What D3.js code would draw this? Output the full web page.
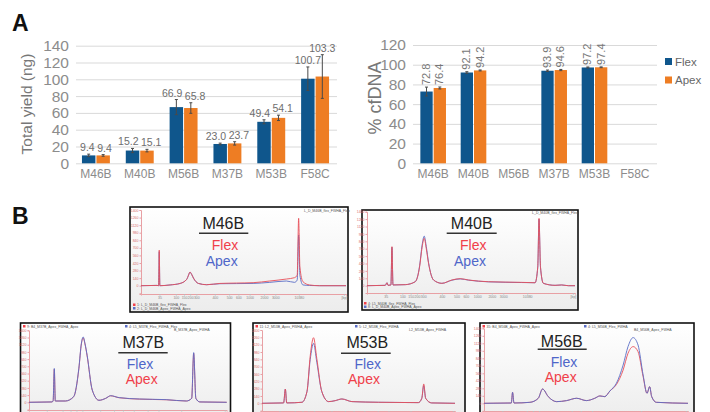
<!DOCTYPE html>
<html>
<head>
<meta charset="utf-8">
<script src="https://cdn.jsdelivr.net/npm/d3@7"></script>
<style>
body{margin:0;background:#fff}
svg{display:block;font-family:"Liberation Sans",Arial,sans-serif}
</style>
</head>
<body>
<svg id="chart" width="710" height="412"></svg>
<script>
// ---- panel A data
const samples = ["M46B", "M40B", "M56B", "M37B", "M53B", "F58C"];
const methods = ["Flex", "Apex"];
const yieldFlex = [9.4, 15.2, 66.9, 23.0, 49.4, 100.7];
const yieldApex = [9.4, 15.1, 65.8, 23.7, 54.1, 103.3];
const yieldErrFlex = [1.5, 2.5, 9, 1, 2.4, 14];
const yieldErrApex = [1, 1.5, 6.3, 2, 3.2, 26];
const cfFlex = [72.8, 92.1, null, 93.9, 97.2, null];
const cfApex = [76.4, 94.2, null, 94.6, 97.4, null];
const cfErrFlex = [4.5, 0.8, null, 0.7, 0.5, null];
const cfErrApex = [1, 0.5, null, 0.6, 0.4, null];
const yieldTicks = [0, 20, 40, 60, 80, 100, 120, 140];
const cfTicks = [0, 20, 40, 60, 80, 100, 120];

// ---- panel B data: [position %, signal %]
const m46bFlex = [[0,0],[7.8,0.4],[8.6,0],[8.9,47],[9.2,0],[14.2,1],[19.1,3],[22.3,8.4],[23.2,14],[23.9,18],[24.7,15],[25.6,10],[28,3],[32,1.3],[38.5,3],[46.6,3.5],[54.7,4],[62.8,6.2],[70.9,8.8],[74.9,10.6],[76.2,14],[76.9,89],[77.5,25],[79,5.3],[82.2,1],[87,0],[100,0]];
const m46bApex = [[0,0],[7.8,0.4],[8.6,0],[8.9,45],[9.2,0],[14.2,1],[19.1,3],[22.3,8.4],[23.2,14],[23.9,18],[24.7,15],[25.6,10],[28,3],[32,1.3],[38.5,2.6],[46.6,2.8],[54.7,3],[62.8,4.4],[70.9,6.2],[74.9,4.4],[76.2,7.5],[76.9,67],[77.5,14],[79,1],[82.2,0.3],[87,0],[100,0]];
const m40bFlex = [[0,0],[8.8,0.5],[9.6,4],[10.1,0.5],[11.5,1],[12,52.7],[12.5,1],[18.4,1.4],[23.2,5.4],[25.3,25.7],[26.5,52],[27.5,64],[28.5,50],[29.6,30],[32,7.7],[36,3.2],[40.8,7.7],[44.8,9.5],[48.8,7.7],[58.4,5.4],[74.4,4.5],[80.8,4],[82.1,25.7],[82.7,91],[83.4,25.7],[84.8,3.2],[90.4,0.5],[93.6,1],[96.8,0],[100,0]];
const m40bApex = [[0,0],[8.8,0.5],[9.6,4],[10.1,0.5],[11.5,1],[12,52],[12.5,1],[18.4,1.4],[23.2,5.4],[25.3,27],[26.5,55],[27.5,67],[28.5,53],[29.6,31],[32,7.7],[36,3.2],[40.8,7.4],[44.8,9.2],[48.8,7.5],[58.4,5.2],[74.4,4.3],[80.8,4],[82.1,25],[82.7,90],[83.4,25],[84.8,3.2],[90.4,0.5],[93.6,1],[96.8,0],[100,0]];
const m37bFlex = [[0,0],[11.6,0.5],[12.2,1.8],[12.8,47],[13.3,1.8],[18.4,1.8],[22.6,7.8],[25.2,47],[26.5,82],[27.4,90.8],[28.3,82],[29.4,65.4],[32,17],[35.4,2.8],[38.8,5.5],[41.3,9.2],[45.6,6.5],[55.8,4.6],[69.4,3.7],[79.6,1.8],[82.3,5.5],[83.3,69],[84.4,5.5],[86.4,0.5],[100,0]];
const m37bApex = [[0,0],[11.6,0.5],[12.2,1.8],[12.8,46],[13.3,1.8],[18.4,1.8],[22.6,7.8],[25.2,46],[26.5,81],[27.4,89.5],[28.3,81],[29.4,64.5],[32,17],[35.4,2.8],[38.8,5.5],[41.3,9],[45.6,6.3],[55.8,4.4],[69.4,3.5],[79.6,1.8],[82.3,5.5],[83.3,68],[84.4,5.5],[86.4,0.5],[100,0]];
const m53bFlex = [[0,0],[11.2,0.5],[12.1,19.5],[12.8,0.5],[20.7,1.4],[23.3,15.9],[25,60],[26.7,81.8],[28.4,56],[31,15.9],[34.5,2.3],[37.9,3.6],[41.4,5.9],[46.6,2.3],[60.3,1.4],[81,0.9],[82.8,6.8],[83.8,24],[84.8,6.8],[87.9,0.5],[100,0]];
const m53bApex = [[0,0],[11.2,0.5],[12.1,19.5],[12.8,0.5],[20.7,1.4],[23.3,15.9],[25,65],[26.7,89.5],[28.4,61],[31,15.9],[34.5,2.3],[37.9,3.6],[41.4,5.9],[46.6,2.3],[60.3,1.4],[81,0.9],[82.8,6.8],[83.8,26.4],[84.8,6.8],[87.9,0.5],[100,0]];
const m56bFlex = [[0,0],[13.4,0.4],[14,14.7],[14.7,0.4],[22.5,1.3],[26.6,6.7],[28.7,19.1],[31.5,8.9],[35.6,2.2],[40.5,3.6],[45.4,6.7],[50.2,3.6],[54.3,6.7],[56.8,9.8],[59.2,8.9],[61.7,16.4],[64.9,26.7],[68.2,51],[70.6,75.6],[73.1,87.6],[75.5,77.8],[78,37.8],[79.9,13.3],[81.2,22.2],[82.2,8.9],[84.5,1.3],[100,0]];
const m56bApex = [[0,0],[13.4,0.4],[14,14.7],[14.7,0.4],[22.5,1.3],[26.6,6.7],[28.7,19.1],[31.5,8.9],[35.6,2.2],[40.5,3.6],[45.4,6.7],[50.2,3.6],[54.3,6.7],[56.8,9.8],[59.2,8.9],[61.7,16.4],[64.9,25],[68.2,44.4],[70.6,66.7],[73.1,75.6],[75.5,68.9],[78,35.6],[79.9,13.3],[81.2,22.2],[82.2,8.9],[84.5,1.3],[100,0]];
const ladderPos = [9, 17, 21, 24, 27, 36, 43, 47.5, 53, 60, 65.5, 77, 99];
const ladderLbl = ["35", "100", "150", "200", "300", "400", "500", "600", "1000", "2000", "3000", "10380", "[bp]"];

const colors = {Flex: "#0f568c", Apex: "#ee7d23"};
const traceRed = "#e8505a", traceBlue = "#5b6ec6";
const textRed = "#f0404a", textBlue = "#4f66c9";

const svg = d3.select("#chart");
const defs = svg.append("defs");
const grad = defs.append("linearGradient").attr("id", "bg")
  .attr("x1", 0).attr("y1", 0).attr("x2", 0).attr("y2", 1);
grad.append("stop").attr("offset", "0%").attr("stop-color", "#ffffff");
grad.append("stop").attr("offset", "100%").attr("stop-color", "#ececec");

function barChart(o) {
  const g = svg.append("g");
  const x0 = d3.scaleBand().domain(samples).range(o.xRange).paddingInner(0.34).paddingOuter(0.17);
  const x1 = d3.scaleBand().domain(methods).range([0, x0.bandwidth()]);
  const y = d3.scaleLinear().domain([0, o.ticks[o.ticks.length - 1]]).range(o.yRange);

  const rows = samples.map((s, i) => ({
    s,
    Flex: o.flex[i], Apex: o.apex[i],
    eFlex: o.errFlex[i], eApex: o.errApex[i]
  }));

  // grid + y labels
  const ya = g.append("g").attr("transform", `translate(${o.gridX[0]},0)`)
    .call(d3.axisLeft(y).tickValues(o.ticks).tickSize(-(o.gridX[1] - o.gridX[0])).tickPadding(7));
  ya.select(".domain").remove();
  ya.selectAll(".tick line").attr("stroke", "#d9d9d9");
  ya.selectAll(".tick text").attr("font-size", 15.5).attr("fill", "#8c8c8c")
    .attr("font-family", "Liberation Sans, Arial, sans-serif");

  // category labels
  const xa = g.append("g").attr("transform", `translate(0,${o.yRange[0]})`)
    .call(d3.axisBottom(x0).tickSize(0).tickPadding(6));
  xa.select(".domain").remove();
  xa.selectAll(".tick text").attr("font-size", 12).attr("fill", "#8c8c8c")
    .attr("font-family", "Liberation Sans, Arial, sans-serif");

  const bars = [];
  rows.forEach(r => methods.forEach(m => {
    if (r[m] != null) bars.push({s: r.s, m, v: r[m], e: r["e" + m]});
  }));
  const cx = d => x0(d.s) + x1(d.m) + x1.bandwidth() / 2;

  g.selectAll(".bar").data(bars).join("rect")
    .attr("x", d => x0(d.s) + x1(d.m) + 0.5)
    .attr("width", x1.bandwidth() - 1)
    .attr("y", d => y(d.v))
    .attr("height", d => y(0) - y(d.v))
    .attr("fill", d => colors[d.m]);

  const eb = g.selectAll(".err").data(bars).join("g").attr("stroke", "#4a4a4a").attr("stroke-width", 1);
  eb.append("line").attr("x1", cx).attr("x2", cx)
    .attr("y1", d => y(d.v + d.e)).attr("y2", d => y(d.v - d.e));
  eb.append("line").attr("x1", d => cx(d) - 1.5).attr("x2", d => cx(d) + 1.5)
    .attr("y1", d => y(d.v + d.e)).attr("y2", d => y(d.v + d.e));
  eb.append("line").attr("x1", d => cx(d) - 1.5).attr("x2", d => cx(d) + 1.5)
    .attr("y1", d => y(d.v - d.e)).attr("y2", d => y(d.v - d.e));

  if (o.rotated) {
    g.selectAll(".vl").data(bars).join("text")
      .attr("transform", d => `translate(${cx(d) + 3.5},${y(d.v + d.e) - 2}) rotate(-90)`)
      .attr("font-size", 11).attr("fill", "#777")
      .text(d => d.v.toFixed(1));
  } else {
    const lbl = g.selectAll(".vl").data(bars).join("text")
      .attr("x", cx).attr("y", d => y(d.v + d.e) - 3)
      .attr("text-anchor", "middle").attr("font-size", 10.5).attr("fill", "#6e6e6e")
      .text(d => d.v.toFixed(1));
    // push the two labels of a pair apart when they would overlap
    const nodes = lbl.nodes();
    for (let i = 0; i + 1 < nodes.length; i += 2) {
      const a = nodes[i], b = nodes[i + 1];
      const da = bars[i], db = bars[i + 1];
      if (Math.abs(y(da.v + da.e) - y(db.v + db.e)) > 9) continue;
      const wa = a.getComputedTextLength(), wb = b.getComputedTextLength();
      const overlap = (cx(da) + wa / 2) - (cx(db) - wb / 2) + 2.5;
      if (overlap > 0) {
        d3.select(a).attr("x", cx(da) - overlap / 2);
        d3.select(b).attr("x", cx(db) + overlap / 2);
      }
    }
  }

  g.append("text")
    .attr("transform", `translate(${o.titleX},${o.titleY}) rotate(-90)`)
    .attr("text-anchor", "middle").attr("font-size", o.titleSize).attr("fill", "#777")
    .text(o.title);
}

barChart({
  flex: yieldFlex, apex: yieldApex, errFlex: yieldErrFlex, errApex: yieldErrApex,
  ticks: yieldTicks, xRange: [74, 337], gridX: [76, 337], yRange: [163.3, 45.7],
  title: "Total yield (ng)", titleX: 32, titleY: 104, titleSize: 15.5, rotated: false
});
barChart({
  flex: cfFlex, apex: cfApex, errFlex: cfErrFlex, errApex: cfErrApex,
  ticks: cfTicks, xRange: [413, 655], gridX: [413, 657], yRange: [163.3, 45],
  title: "% cfDNA", titleX: 381, titleY: 98, titleSize: 18, rotated: true
});

// legend
const leg = svg.append("g").attr("transform", "translate(665,58)");
methods.forEach((m, i) => {
  leg.append("rect").attr("x", 0).attr("y", i * 18.5).attr("width", 7).attr("height", 7).attr("fill", colors[m]);
  leg.append("text").attr("x", 10).attr("y", i * 18.5 + 7.5).attr("font-size", 11.5).attr("fill", "#666").text(m);
});

svg.append("text").attr("x", 12).attr("y", 31).attr("font-size", 23).attr("font-weight", "bold").attr("fill", "#111").text("A");
svg.append("text").attr("x", 12).attr("y", 224).attr("font-size", 23).attr("font-weight", "bold").attr("fill", "#111").text("B");

// ---- panel B
function electro(p) {
  const g = svg.append("g");
  g.append("rect").attr("x", p.box[0]).attr("y", p.box[1]).attr("width", p.box[2]).attr("height", p.box[3])
    .attr("fill", "url(#bg)").attr("stroke", "#111").attr("stroke-width", 1.6);
  const x = d3.scaleLinear().domain([0, 100]).range([p.l, p.r]);
  const y = d3.scaleLinear().domain([0, 100]).range([p.base, p.top]);
  const yAxis = y.copy().domain([y.invert(p.axisBottom), 100]).range([p.axisBottom, p.top]);

  const ay = g.append("g").attr("transform", `translate(${p.l},0)`)
    .call(d3.axisLeft(yAxis).ticks(9).tickSize(1.5).tickPadding(1).tickFormat(d => d < 0 ? "" : Math.round(d * 14)));
  ay.select(".domain").attr("stroke", "#e8a0a4");
  ay.selectAll(".tick line").attr("stroke", "#e8a0a4");
  ay.selectAll(".tick text").attr("font-size", 3.5).attr("fill", "#d96a70");

  // bottom row is cropped below the axis: keep the tick marks, drop their labels
  const ax = g.append("g").attr("transform", `translate(0,${p.axisBottom})`)
    .call(d3.axisBottom(x).tickValues(ladderPos).tickSize(1.5).tickPadding(1)
      .tickFormat((d, i) => p.cropped ? "" : ladderLbl[i]));
  ax.select(".domain").attr("stroke", "#e8a0a4");
  ax.selectAll(".tick line").attr("stroke", "#bbb");
  ax.selectAll(".tick text").attr("font-size", 3.5).attr("fill", "#888");

  const line = d3.line().x(d => x(d[0])).y(d => y(d[1])).curve(d3.curveMonotoneX);
  p.traces.forEach(t => {
    g.append("path").attr("d", line(t.data)).attr("fill", "none")
      .attr("stroke", t.color).attr("stroke-width", 1).attr("stroke-opacity", 0.9);
  });

  // file legends
  p.files.forEach(f => {
    g.append("rect").attr("x", f[0]).attr("y", f[1] - 2.5).attr("width", 2.5).attr("height", 2.5).attr("fill", f[3]);
    g.append("text").attr("x", f[0] + 4).attr("y", f[1]).attr("font-size", 3.5).attr("fill", "#555").text(f[2]);
  });

  // labels
  g.append("text").attr("x", p.name[0]).attr("y", p.name[1] + 5.8).attr("text-anchor", "middle")
    .attr("font-size", 16).attr("fill", "#222").text(p.name[2]);
  g.append("line").attr("x1", p.rule[0]).attr("x2", p.rule[1]).attr("y1", p.rule[2]).attr("y2", p.rule[2])
    .attr("stroke", "#333").attr("stroke-width", 1.6);
  p.labels.forEach(l => {
    g.append("text").attr("x", l[0]).attr("y", l[1] + 5).attr("text-anchor", "middle")
      .attr("font-size", 14).attr("fill", l[3]).text(l[2]);
  });
}

electro({
  box: [130, 207, 218, 105], l: 141, r: 346, top: 210, base: 285.7, axisBottom: 294,
  traces: [{data: m46bApex, color: traceBlue}, {data: m46bFlex, color: traceRed}],
  files: [[133, 306, "1: L_D_M46B_flex_FWHA_Flex", textRed], [133, 309.5, "2: L_D_M46B_Apex_FWHA_Apex", traceBlue], [300, 212, "L_D_M46B_flex_FWHA_Flex", "none"]],
  name: [223.3, 223.3, "M46B"], rule: [199, 248.3, 233.3],
  labels: [[225, 245, "Flex", textRed], [221.7, 261, "Apex", textBlue]]
});
electro({
  box: [362, 210, 216, 100], l: 367, r: 575, top: 211.7, base: 285.7, axisBottom: 293,
  traces: [{data: m40bApex, color: traceBlue}, {data: m40bFlex, color: traceRed}],
  files: [[364, 304.5, "4: L5_M40B_flex_FWHA_Flex", textRed], [364, 308, "8: L_D_M40B_Apex_FWHA_Apex", traceBlue], [528, 213.5, "L_D_M40B_flex_FWHA_Flex", "none"]],
  name: [471.7, 223.3, "M40B"], rule: [446.7, 496.7, 233.3],
  labels: [[473.3, 245, "Flex", textRed], [470, 261, "Apex", textBlue]]
});
electro({
  box: [20.5, 323, 210, 100], l: 29, r: 226.7, top: 330.3, base: 402.3, axisBottom: 410, cropped: true,
  traces: [{data: m37bApex, color: traceRed}, {data: m37bFlex, color: traceBlue}],
  files: [[23, 327.5, "9: B4_M37B_Apex_FWHA_Apex", textRed], [125, 327.5, "4: L5_M37B_Flex_FWHA_Flex", traceBlue], [170, 331, "B_M37B_Apex_FWHA", "none"]],
  name: [143.3, 341.7, "M37B"], rule: [118.3, 167.7, 352.7],
  labels: [[140, 364, "Flex", textBlue], [141.7, 379.3, "Apex", textRed]]
});
electro({
  box: [253, 323, 212, 100], l: 262, r: 455, top: 330, base: 403.3, axisBottom: 411, cropped: true,
  traces: [{data: m53bFlex, color: traceBlue}, {data: m53bApex, color: traceRed}],
  files: [[255.5, 327.5, "11: L2_M53B_Apex_FWHA_Apex", textRed], [355, 327.5, "5: L2_M53B_Flex_FWHA", traceBlue], [405, 331, "L2_M53B_Apex_FWHA", "none"]],
  name: [367.3, 342.3, "M53B"], rule: [341, 390.7, 353.3],
  labels: [[367.7, 364.3, "Flex", textBlue], [364, 379.3, "Apex", textRed]]
});
electro({
  box: [480, 323, 214, 100], l: 484, r: 688, top: 328.3, base: 403.3, axisBottom: 411, cropped: true,
  traces: [{data: m56bApex, color: traceRed}, {data: m56bFlex, color: traceBlue}],
  files: [[482.5, 327.5, "35: B4_M56B_Apex_FWHA_Apex", textRed], [584, 327.5, "4: L5_M56B_Flex_FWHA", traceBlue], [630, 331, "B4_M56B_Apex_FWHA", "none"]],
  name: [561.7, 341, "M56B"], rule: [537.7, 586.7, 349.3],
  labels: [[564, 361.7, "Flex", textBlue], [560.7, 376.7, "Apex", textRed]]
});
</script>
</body>
</html>
